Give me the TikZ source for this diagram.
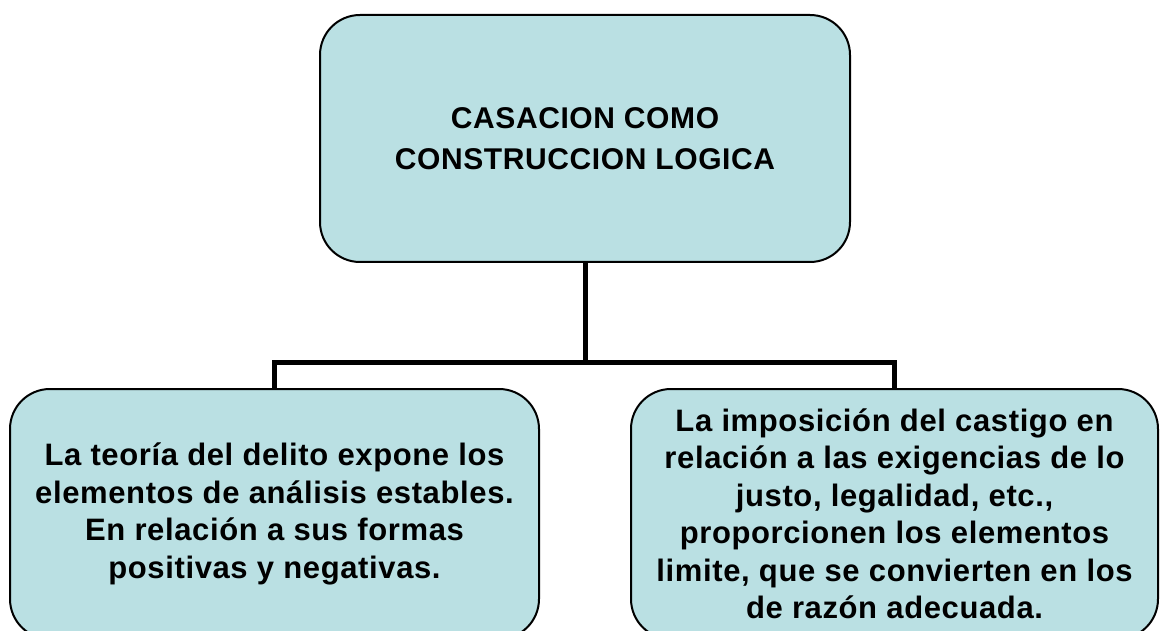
\documentclass[tikz,border=0pt]{standalone}
\usepackage{fontspec}
\setmainfont{Liberation Sans}[LetterSpace=2]
\definecolor{boxfill}{RGB}{186,224,227}
\tikzset{
  roundbox/.style={draw=black, line width=2pt, fill=boxfill, rounded corners=40pt,
    align=center, inner sep=0pt, font=\bfseries},
  conn/.style={draw=black, line width=5pt}
}
\begin{document}
\begin{tikzpicture}[x=1pt,y=-1pt]
\useasboundingbox (0,0) rectangle (1163,631);
\clip (0,0) rectangle (1163,631);
\node[roundbox, minimum width=530pt, minimum height=247pt,
      font=\bfseries\fontsize{30}{41}\selectfont] (top) at (585,138.5)
  {CASACION COMO\\CONSTRUCCION LOGICA};
\node[roundbox, minimum width=529pt, minimum height=250pt,
      font=\bfseries\fontsize{31}{37.5}\selectfont] (left) at (274.5,514)
  {La teoría del delito expone los\\elementos de análisis estables.\\En relación a sus formas\\positivas y negativas.};
\node[roundbox, minimum width=527pt, minimum height=250pt,
      font=\bfseries\fontsize{31}{37.5}\selectfont] (right) at (894.5,514)
  {La imposición del castigo en\\relación a las exigencias de lo\\justo, legalidad, etc.,\\proporcionen los elementos\\limite, que se convierten en los\\de razón adecuada.};
\coordinate (bar) at (585,362.5);
\draw[conn] (top.south) -- (bar);
\draw[conn] (left.north) |- (bar) -| (right.north);
\end{tikzpicture}
\end{document}
